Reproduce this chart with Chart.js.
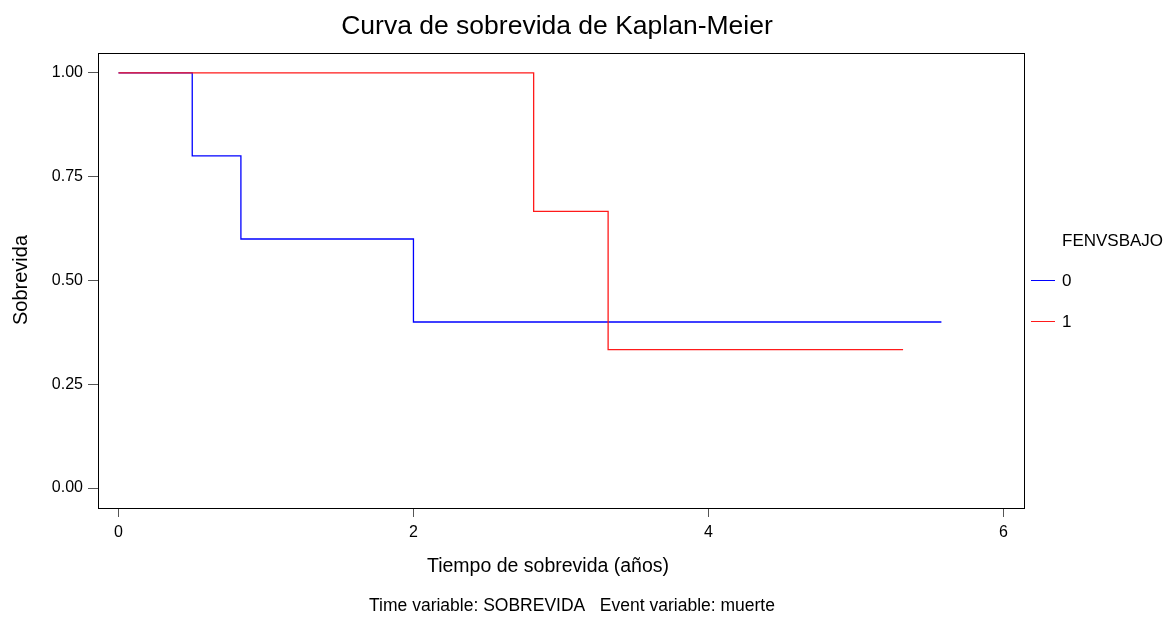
<!DOCTYPE html>
<html>
<head>
<meta charset="utf-8">
<script src="https://cdn.jsdelivr.net/npm/chart.js@4"></script>
<style>
  html, body { margin: 0; padding: 0; background: #fff; }
  #wrap { position: relative; width: 1175px; height: 618px; }
</style>
</head>
<body>
<div id="wrap"><canvas id="km"></canvas></div>
<script>
// Kaplan-Meier step points
const timesGroup0 = [0, 0.5, 0.83, 2.0, 5.58];
const survGroup0  = [1.0, 0.8, 0.6, 0.4, 0.4];
const timesGroup1 = [0, 2.815, 3.32, 5.32];
const survGroup1  = [1.0, 0.6667, 0.3333, 0.3333];

const groupLabels = ['0', '1'];
const xTicks = [0, 2, 4, 6];
const yTicks = [0, 0.25, 0.5, 0.75, 1.0];

const FONT = "'Liberation Sans', Arial, sans-serif";
const BLUE = '#0000ff';
const RED = '#ff1a1a';

const toPts = (ts, ss) => ts.map((t, i) => ({ x: t, y: ss[i] }));

// frame, titles, legend
const decor = {
  id: 'decor',
  afterDraw(chart) {
    const { ctx, chartArea: a } = chart;
    ctx.save();
    ctx.strokeStyle = '#000';
    ctx.lineWidth = 1;
    ctx.strokeRect(a.left + 0.5, a.top + 0.5, a.right - a.left, a.bottom - a.top);

    ctx.fillStyle = '#000';
    ctx.textAlign = 'center';
    ctx.textBaseline = 'middle';
    ctx.font = '26.5px ' + FONT;
    ctx.fillText('Curva de sobrevida de Kaplan-Meier', 557, 27);
    ctx.font = '19.5px ' + FONT;
    ctx.fillText('Tiempo de sobrevida (años)', 548, 567);
    ctx.font = '17.5px ' + FONT;
    ctx.fillText('Time variable: SOBREVIDA   Event variable: muerte', 572, 606);

    ctx.save();
    ctx.translate(21, 280);
    ctx.rotate(-Math.PI / 2);
    ctx.font = '20px ' + FONT;
    ctx.fillText('Sobrevida', 0, 0);
    ctx.restore();

    // legend
    ctx.textAlign = 'left';
    ctx.font = '17px ' + FONT;
    ctx.fillText('FENVSBAJO', 1062, 241);
    const cols = [BLUE, RED];
    groupLabels.forEach((g, i) => {
      const y = 280 + i * 41;
      ctx.strokeStyle = cols[i];
      ctx.beginPath();
      ctx.moveTo(1031, y + 0.5);
      ctx.lineTo(1055, y + 0.5);
      ctx.stroke();
      ctx.fillStyle = '#000';
      ctx.font = '17px ' + FONT;
      ctx.fillText(g, 1062, y + 1);
    });
    ctx.restore();
  }
};

new Chart(document.getElementById('km'), {
  type: 'line',
  data: {
    datasets: [
      {
        label: groupLabels[0],
        data: toPts(timesGroup0, survGroup0),
        borderColor: BLUE,
        borderWidth: 1.3,
        stepped: true,
        pointRadius: 0,
        fill: false,
        order: 1,
      },
      {
        label: groupLabels[1],
        data: toPts(timesGroup1, survGroup1),
        borderColor: RED,
        borderWidth: 1.3,
        stepped: true,
        pointRadius: 0,
        fill: false,
        order: 0,
      },
    ],
  },
  options: {
    responsive: true,
    maintainAspectRatio: false,
    animation: false,
    events: [],
    layout: { padding: { left: 0, right: 151, top: 53, bottom: 50 } },
    plugins: { legend: { display: false }, tooltip: { enabled: false }, title: { display: false } },
    scales: {
      x: {
        type: 'linear',
        min: -0.139,
        max: 6.14,
        afterBuildTicks: (s) => { s.ticks = xTicks.map((v) => ({ value: v })); },
        afterFit: (s) => { s.height = 60; },
        grid: { drawOnChartArea: false, drawTicks: true, tickLength: 9, color: '#555' },
        border: { display: false },
        ticks: { color: '#000', font: { family: FONT, size: 16 }, padding: 6, maxRotation: 0 },
      },
      y: {
        type: 'linear',
        min: -0.048,
        max: 1.048,
        afterBuildTicks: (s) => { s.ticks = yTicks.map((v) => ({ value: v })); },
        afterFit: (s) => { s.width = 98; },
        grid: { drawOnChartArea: false, drawTicks: true, tickLength: 10, color: '#555' },
        border: { display: false },
        ticks: {
          color: '#000',
          font: { family: FONT, size: 16 },
          padding: 5,
          callback: (v) => Number(v).toFixed(2),
        },
      },
    },
  },
  plugins: [decor],
});
</script>
</body>
</html>
